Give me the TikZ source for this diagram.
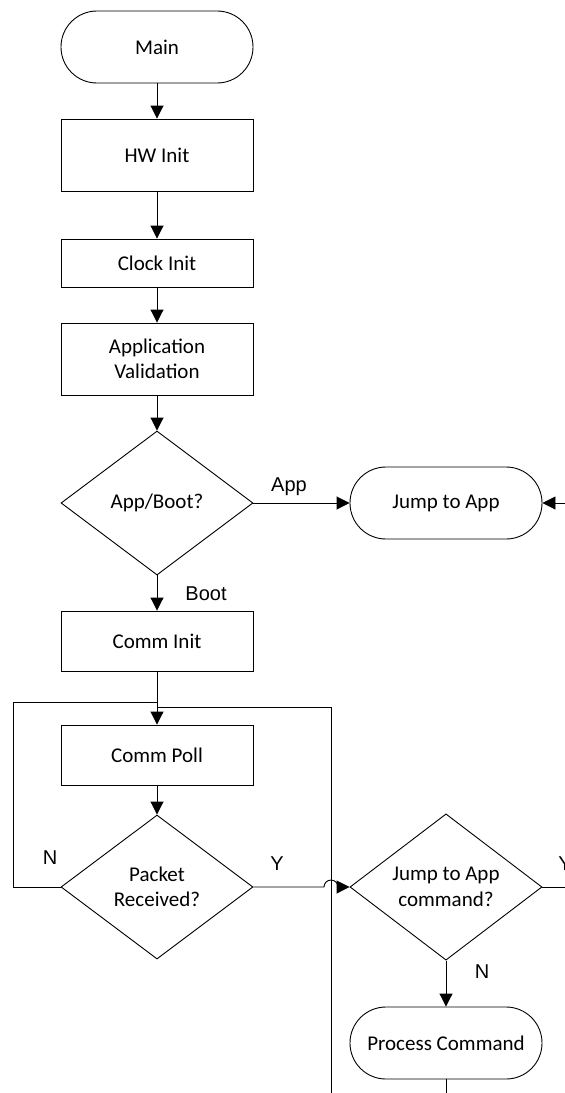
\documentclass[tikz,border=0pt]{standalone}
\usepackage{fontspec}
\setmainfont{Carlito}
\newfontfamily\labelfont{Liberation Sans}
\usetikzlibrary{arrows.meta,shapes.geometric}
\begin{document}
\begin{tikzpicture}[x=1pt,y=-1pt,
  every node/.style={font=\fontsize{21}{25.5}\selectfont, text=black},
  ln/.style={line width=0.9pt, draw=black},
  box/.style={ln, rectangle, minimum width=192pt, inner sep=0pt, align=center},
  term/.style={ln, rectangle, rounded corners=35.9pt, minimum width=192pt, minimum height=72pt, inner sep=0pt, align=center},
  decision/.style={ln, diamond, minimum width=192pt, minimum height=144pt, inner sep=0pt, align=center},
  flow/.style={ln, -{Triangle[length=13pt,width=13pt]}},
  lbl/.style={font=\labelfont\fontsize{20}{24}\selectfont, inner sep=0pt, anchor=base},
]
\useasboundingbox (0,0) rectangle (565,1093);
\clip (0,0) rectangle (565,1093);

% nodes
\node[term] (main) at (157,47) {Main};
\node[box, minimum height=72pt] (hw) at (157,155) {HW Init};
\node[box, minimum height=48pt] (clock) at (157,263) {Clock Init};
\node[box, minimum height=72pt] (appval) at (157,359) {Application\\Validation};
\node[decision] (appboot) at (157,503) {App/Boot?};
\node[term] (jump) at (446,503) {Jump to App};
\node[box, minimum height=60pt] (comminit) at (157,641) {Comm Init};
\node[box, minimum height=60pt] (commpoll) at (157,755) {Comm Poll};
\node[decision] (packet) at (157,887) {Packet\\Received?};
\node[decision] (jcmd) at (446,887) {Jump to App\\command?};
\node[term] (proc) at (446,1043) {Process Command};

% helper coordinates
\coordinate (rin) at (570,503);
\coordinate (lb) at (13,887);
\coordinate (lt) at (13,702);
\coordinate (j1) at (157,702);
\coordinate (j2) at (157,707);
\coordinate (rt) at (331,707);
\coordinate (rb) at (331,1100);
\coordinate (hop) at (324,887);
\coordinate (yout) at (570,887);
\coordinate (pout) at (446,1100);

% connectors
\draw[flow] (main) -- (hw);
\draw[flow] (hw) -- (clock);
\draw[flow] (clock) -- (appval);
\draw[flow] (appval) -- (appboot);
\draw[flow] (appboot) -- (jump);
\draw[flow] (rin) -- (jump);
\draw[flow] (appboot) -- (comminit);
\draw[flow] (comminit) -- (commpoll);
\draw[flow] (commpoll) -- (packet);
\draw[ln] (packet.west) -- (lb) -- (lt) -- (j1);
\draw[ln] (rb) -- (rt) -- (j2);
\draw[flow] (packet.east) -- (hop) arc[start angle=180, end angle=0, radius=7pt] -- (jcmd.west);
\draw[ln] (jcmd.east) -- (yout);
\draw[flow] (jcmd) -- (proc);
\draw[ln] (proc) -- (pout);

% labels
\node[lbl] (lapp) at (289,491) {App};
\node[lbl] (lboot) at (206,600) {Boot};
\node[lbl] (ln1) at (50,864) {N};
\node[lbl] (ly1) at (277,870) {Y};
\node[lbl] (ln2) at (482,978) {N};
\node[lbl] (ly2) at (565,870) {Y};
\end{tikzpicture}
\end{document}
